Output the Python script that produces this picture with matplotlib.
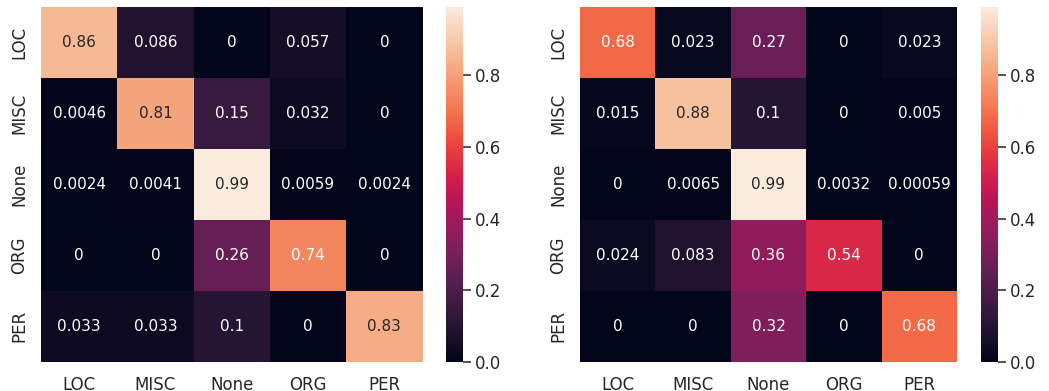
import numpy as np
import matplotlib.pyplot as plt
import seaborn as sns

labels = ["LOC", "MISC", "None", "ORG", "PER"]

conf_left = [
    [0.86, 0.086, 0, 0.057, 0],
    [0.0046, 0.81, 0.15, 0.032, 0],
    [0.0024, 0.0041, 0.99, 0.0059, 0.0024],
    [0, 0, 0.26, 0.74, 0],
    [0.033, 0.033, 0.1, 0, 0.83],
]
conf_right = [
    [0.68, 0.023, 0.27, 0, 0.023],
    [0.015, 0.88, 0.1, 0, 0.005],
    [0, 0.0065, 0.99, 0.0032, 0.00059],
    [0.024, 0.083, 0.36, 0.54, 0],
    [0, 0, 0.32, 0, 0.68],
]

sns.set_theme(style="white")
plt.rcParams["font.family"] = ["DejaVu Sans"]
plt.rcParams["text.color"] = "#262626"

W, H = 1049, 391
fig = plt.figure(figsize=(W / 100, H / 100), dpi=100)


def px(x0, y0, x1, y1):
    return [x0 / W, 1 - y1 / H, (x1 - x0) / W, (y1 - y0) / H]


panels = [
    (conf_left, px(41, 7.3, 422.5, 361.7), px(446, 7.3, 463, 361.7)),
    (conf_right, px(580, 7.3, 957, 361.7), px(980.7, 7.3, 997.7, 361.7)),
]

for data, ax_pos, cb_pos in panels:
    ax = fig.add_axes(ax_pos)
    cax = fig.add_axes(cb_pos)
    sns.heatmap(np.array(data), annot=True, ax=ax, cbar_ax=cax,
                xticklabels=labels, yticklabels=labels,
                annot_kws={"fontsize": 11})
    ax.tick_params(axis="both", length=0, labelsize=12,
                   labelcolor="#262626")
    ax.tick_params(axis="x", pad=10)
    ax.tick_params(axis="y", pad=9)
    ax.set_yticklabels(labels, rotation=90, va="center")
    cax.tick_params(axis="y", length=5.8, width=1.1, color="#262626",
                    labelsize=12, labelcolor="#262626", pad=3)
    cax.set_yticks([0, 0.2, 0.4, 0.6, 0.8])
    cax.set_yticklabels(["0.0", "0.2", "0.4", "0.6", "0.8"])
    for s in cax.spines.values():
        s.set_visible(False)

fig.savefig("out.png", dpi=100)
